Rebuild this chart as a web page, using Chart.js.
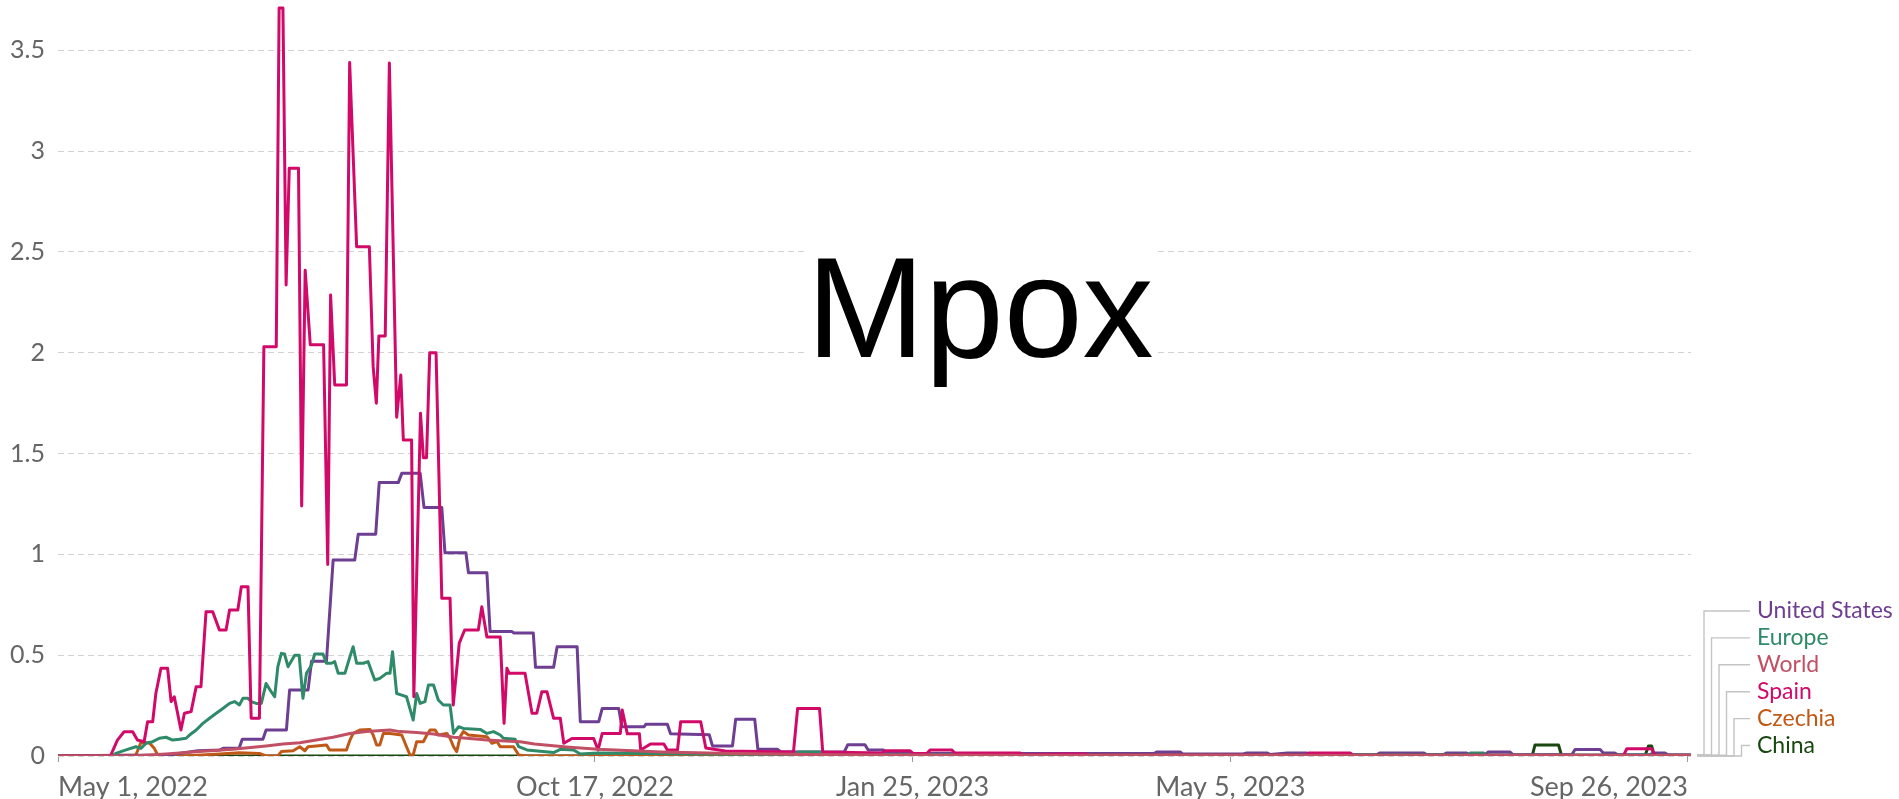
<!DOCTYPE html>
<html>
<head>
<meta charset="utf-8">
<script src="https://cdn.jsdelivr.net/npm/chart.js@4.4.0/dist/chart.umd.min.js"></script>
<style>
  html, body { margin: 0; padding: 0; background: #fff; }
  #wrap { width: 1899px; height: 799px; }
</style>
</head>
<body>
<div id="wrap"><canvas id="chart" width="1899" height="799"></canvas></div>
<script>
"use strict";

// x values are days since May 1, 2022
const xTickDays = [0, 169, 269, 369, 513];
const xTickLabels = ["May 1, 2022", "Oct 17, 2022", "Jan 25, 2023", "May 5, 2023", "Sep 26, 2023"];
const yTickValues = [0, 0.5, 1, 1.5, 2, 2.5, 3, 3.5];

const seriesNames = ["United States", "Europe", "World", "Spain", "Czechia", "China"];

const spainDays = [0, 16.5, 18.7, 20.8, 23.5, 25, 27.1, 28.2, 29.8, 30.8, 32.4, 34.5, 35.6, 36.6, 38.7, 39.8, 41.9, 43.5, 45, 46.6, 48.7, 50.8, 52.9, 54, 56.6, 57.7, 59.8, 60.8, 63.4, 64.8, 68.7, 69.6, 70.8, 71.8, 72.8, 75.7, 76.7, 77.8, 79.4, 83.6, 84.9, 85.8, 87.1, 90.8, 91.8, 94, 98, 99.2, 100.2, 101, 103, 104.3, 106.6, 107.9, 108.7, 111.3, 112, 114.1, 115, 116, 117, 119, 120.8, 123.4, 124.4, 126.3, 128, 132.3, 133.4, 135, 139.2, 140.4, 141.3, 142, 147, 149.2, 150.7, 152.3, 153.9, 156, 158.1, 159.2, 161.8, 168.6, 170, 171.3, 177, 177.6, 179.2, 183, 183.4, 186.5, 190.7, 191.8, 195, 196, 202.3, 203.9, 210, 231.5, 232.8, 239.7, 240.7, 259.3, 260.3, 268.2, 269.2, 273.5, 274.5, 281.3, 282.3, 302.8, 303.8, 317.5, 323.3, 324.3, 393, 393.6, 406.7, 407.7, 492.8, 493.8, 501.6, 502.6, 514];
const spainValues = [0, 0, 0.079, 0.12, 0.12, 0.079, 0.071, 0.17, 0.17, 0.31, 0.435, 0.435, 0.27, 0.294, 0.129, 0.212, 0.22, 0.344, 0.344, 0.716, 0.716, 0.625, 0.625, 0.724, 0.724, 0.84, 0.84, 0.187, 0.187, 2.03, 2.03, 3.71, 3.71, 2.336, 2.915, 2.915, 1.24, 2.41, 2.04, 2.04, 0.95, 2.287, 1.84, 1.84, 3.44, 2.526, 2.526, 1.93, 1.75, 2.083, 2.083, 3.437, 1.68, 1.89, 1.567, 1.567, 0.294, 1.7, 1.48, 1.48, 2.0, 2.0, 0.782, 0.782, 0.253, 0.56, 0.625, 0.625, 0.74, 0.59, 0.59, 0.162, 0.435, 0.41, 0.41, 0.212, 0.212, 0.319, 0.319, 0.187, 0.187, 0.063, 0.087, 0.087, 0.03, 0.112, 0.112, 0.228, 0.11, 0.11, 0.03, 0.06, 0.06, 0.03, 0.03, 0.17, 0.17, 0.04, 0.025, 0.02, 0.236, 0.236, 0.02, 0.015, 0.026, 0.026, 0.012, 0.012, 0.03, 0.03, 0.015, 0.015, 0.006, 0.01, 0.01, 0.005, 0.005, 0.015, 0.015, 0.004, 0.004, 0.036, 0.036, 0.004, 0.004];

const usDays = [0, 35, 44, 51, 52, 57, 58, 64.5, 65.5, 71.9, 72.9, 78.7, 79.8, 84.5, 86.6, 93.4, 94.5, 100, 101.1, 107.1, 108.2, 114, 115.2, 120.8, 121.8, 128.4, 129.2, 135, 136, 142.9, 143.5, 149.6, 150.3, 156, 157.1, 163.4, 164.4, 170.2, 171.3, 176.5, 177.5, 184.5, 185, 191.8, 192.8, 205, 206, 212.3, 213.3, 219.3, 220.3, 226.5, 227.5, 247.5, 248.6, 254, 255, 259.8, 260.8, 345, 345.8, 353.2, 354, 373, 374.2, 380.5, 381.5, 387, 393, 394, 415, 416, 429.8, 431, 436, 437, 443.4, 444.4, 449.2, 450.2, 457, 458, 476.5, 477.5, 485.4, 486.4, 490, 491, 501, 502.2, 505.8, 506.8, 514];
const usValues = [0, 0.005, 0.026, 0.03, 0.038, 0.038, 0.083, 0.083, 0.129, 0.129, 0.327, 0.327, 0.47, 0.47, 0.972, 0.972, 1.1, 1.1, 1.356, 1.356, 1.402, 1.402, 1.233, 1.233, 1.008, 1.008, 0.909, 0.909, 0.617, 0.617, 0.61, 0.61, 0.44, 0.44, 0.542, 0.542, 0.17, 0.17, 0.236, 0.236, 0.145, 0.145, 0.157, 0.157, 0.11, 0.105, 0.05, 0.05, 0.182, 0.182, 0.033, 0.033, 0.02, 0.02, 0.056, 0.056, 0.03, 0.03, 0.012, 0.012, 0.02, 0.02, 0.01, 0.01, 0.015, 0.015, 0.008, 0.015, 0.015, 0.006, 0.006, 0.015, 0.015, 0.006, 0.006, 0.015, 0.015, 0.006, 0.006, 0.02, 0.02, 0.006, 0.006, 0.032, 0.032, 0.015, 0.015, 0.006, 0.006, 0.015, 0.015, 0.005, 0.005];

const europeDays = [0, 17, 18.2, 21.4, 24.5, 26.1, 27.7, 29.8, 31.9, 34, 36.1, 38.2, 40.3, 41.4, 43.5, 45.6, 47.7, 49.8, 51.9, 54, 55.6, 57.1, 58.2, 59.8, 60.8, 62.4, 64, 65.5, 67.1, 68.2, 69.2, 70.3, 71.3, 72.4, 74.5, 75.9, 77.1, 78.2, 79.8, 80.8, 83.4, 84.5, 86.1, 87.1, 88.2, 90.3, 91.9, 92.9, 94, 96.1, 97.6, 99.7, 101.3, 103.4, 104.5, 105.3, 106.6, 108.2, 109.7, 111.8, 112.9, 114, 115.5, 116.6, 118.2, 119.7, 121.3, 123.4, 124.5, 126.1, 127.6, 132.9, 135, 137.1, 139.2, 140.2, 143.9, 145, 147.6, 156, 158.1, 162.3, 164.4, 170, 200, 232, 233, 240, 241, 444, 444.5, 448.7, 449.5, 514];
const europeValues = [0, 0, 0.013, 0.03, 0.046, 0.038, 0.063, 0.071, 0.088, 0.093, 0.079, 0.083, 0.088, 0.104, 0.129, 0.162, 0.187, 0.212, 0.236, 0.261, 0.27, 0.253, 0.286, 0.286, 0.27, 0.261, 0.261, 0.36, 0.319, 0.294, 0.443, 0.509, 0.506, 0.443, 0.5, 0.5, 0.286, 0.41, 0.451, 0.506, 0.506, 0.46, 0.46, 0.468, 0.41, 0.41, 0.493, 0.542, 0.46, 0.46, 0.468, 0.377, 0.385, 0.41, 0.41, 0.517, 0.31, 0.302, 0.294, 0.178, 0.31, 0.261, 0.27, 0.352, 0.352, 0.278, 0.253, 0.253, 0.112, 0.145, 0.137, 0.132, 0.112, 0.121, 0.104, 0.088, 0.083, 0.046, 0.03, 0.017, 0.033, 0.03, 0.01, 0.015, 0.01, 0.008, 0.02, 0.02, 0.006, 0.006, 0.015, 0.015, 0.006, 0.005];

const worldDays = [0, 23.5, 34, 44.5, 55, 65.5, 70.8, 76.1, 81.3, 86.6, 91.9, 97.1, 104.5, 107.6, 112.9, 118.2, 124.5, 128.7, 135, 139.2, 145.5, 150, 160, 170, 190, 212, 245, 300, 514];
const worldValues = [0, 0, 0.01, 0.022, 0.033, 0.05, 0.06, 0.066, 0.079, 0.093, 0.112, 0.121, 0.129, 0.121, 0.116, 0.109, 0.093, 0.088, 0.079, 0.076, 0.071, 0.06, 0.045, 0.033, 0.02, 0.012, 0.006, 0.004, 0.003];

const czechiaDays = [0, 24.5, 26.1, 28.7, 30.3, 31.4, 39.8, 50.8, 57.1, 63.4, 65.5, 69.2, 70.3, 74, 76.1, 77.7, 78.7, 81.3, 84.5, 85.5, 90.8, 91.9, 92.9, 95, 98.2, 99.2, 100.3, 101.3, 102.4, 104.5, 108.2, 109.7, 110.8, 111.8, 112.9, 115, 116.1, 117.1, 118.7, 119.7, 122.4, 123.4, 124.5, 125.5, 126.6, 127.6, 129.2, 135, 136.6, 138.2, 139.2, 143.4, 145, 147.6, 514];
const czechiaValues = [0, 0.005, 0.066, 0.066, 0.038, 0.005, 0, 0.01, 0.016, 0.013, 0, 0, 0.022, 0.026, 0.046, 0.026, 0.046, 0.05, 0.055, 0.03, 0.03, 0.079, 0.112, 0.129, 0.132, 0.104, 0.055, 0.055, 0.112, 0.112, 0.104, 0.046, 0.005, 0.005, 0.071, 0.071, 0.104, 0.129, 0.129, 0.104, 0.112, 0.088, 0.046, 0.022, 0.096, 0.121, 0.104, 0.096, 0.063, 0.071, 0.046, 0.046, 0.005, 0, 0];

const chinaDays = [0, 464, 464.9, 472.3, 473.3, 499.5, 500.6, 501.6, 502.5, 514];
const chinaValues = [0, 0, 0.055, 0.055, 0, 0, 0.05, 0.05, 0, 0];

const colors = {
  "United States": "#6d3e91",
  "Europe": "#2e8a68",
  "World": "#c15065",
  "Spain": "#d10a69",
  "Czechia": "#c05917",
  "China": "#18470f",
};

function points(days, values) {
  return days.map((d, i) => ({ x: d, y: values[i] }));
}

function line(name, days, values) {
  return {
    label: name,
    data: points(days, values),
    borderColor: colors[name],
    backgroundColor: colors[name],
    borderWidth: 3,
    borderJoinStyle: "round",
    pointRadius: 0,
    tension: 0,
  };
}

// first dataset ends up on top
const datasets = [
  line("World", worldDays, worldValues),
  line("Spain", spainDays, spainValues),
  line("Europe", europeDays, europeValues),
  line("United States", usDays, usValues),
  line("Czechia", czechiaDays, czechiaValues),
  line("China", chinaDays, chinaValues),
];

// Title box and end-of-line labels.
const overlay = {
  id: "overlay",
  afterDatasetsDraw(chart) {
    const { ctx, scales: { x, y } } = chart;
    ctx.save();

    ctx.fillStyle = "#fff";
    ctx.fillRect(806, 232, 348, 154);
    ctx.fillStyle = "#000";
    ctx.font = '142px "Liberation Sans", Arial, sans-serif';
    ctx.textAlign = "center";
    ctx.textBaseline = "alphabetic";
    ctx.fillText("Mpox", 980, 357);

    ctx.textAlign = "left";
    ctx.textBaseline = "middle";
    ctx.font = '23px Lato, "Noto Sans", sans-serif';
    ctx.lineWidth = 1.4;
    seriesNames.forEach((name, i) => {
      const ds = chart.data.datasets.find((d) => d.label === name);
      const last = ds.data[ds.data.length - 1];
      const x0 = x.getPixelForValue(last.x) + 6;
      const y0 = y.getPixelForValue(last.y);
      const xv = 1704 + i * 7.5;
      const ly = 611 + i * 26.9;
      ctx.strokeStyle = "#c4c4c4";
      ctx.beginPath();
      ctx.moveTo(x0, y0);
      ctx.lineTo(xv, y0);
      ctx.lineTo(xv, ly);
      ctx.lineTo(1750, ly);
      ctx.stroke();
      ctx.fillStyle = colors[name];
      ctx.fillText(name, 1757, ly);
    });
    ctx.restore();
  },
};

new Chart(document.getElementById("chart"), {
  type: "line",
  data: { datasets },
  plugins: [overlay],
  options: {
    responsive: false,
    animation: false,
    events: [],
    layout: { padding: { left: 0, right: 208, top: 2, bottom: 0 } },
    plugins: { legend: { display: false }, tooltip: { enabled: false } },
    scales: {
      x: {
        type: "linear",
        min: 0,
        max: 514,
        afterBuildTicks: (s) => { s.ticks = xTickDays.map((v) => ({ value: v })); },
        afterFit: (s) => { s.height = 43; s.paddingLeft = 0; s.paddingRight = 0; },
        border: { display: false },
        grid: { drawOnChartArea: false, drawTicks: true, tickLength: 6, color: "#999" },
        ticks: {
          align: "inner",
          maxRotation: 0,
          padding: 9,
          color: "#666",
          font: { family: "Lato", size: 27 },
          callback: (v) => xTickLabels[xTickDays.indexOf(v)],
        },
      },
      y: {
        min: 0,
        max: 3.74,
        afterBuildTicks: (s) => { s.ticks = yTickValues.map((v) => ({ value: v })); },
        afterFit: (s) => { s.width = 58; s.paddingTop = 0; s.paddingBottom = 0; },
        border: { display: false, dash: [6, 4] },
        grid: { color: "#d2d2d2", drawTicks: false, lineWidth: 1 },
        ticks: {
          padding: 13,
          color: "#666",
          font: { family: "Lato", size: 25 },
          callback: (v) => String(v),
        },
      },
    },
  },
});
</script>
</body>
</html>
